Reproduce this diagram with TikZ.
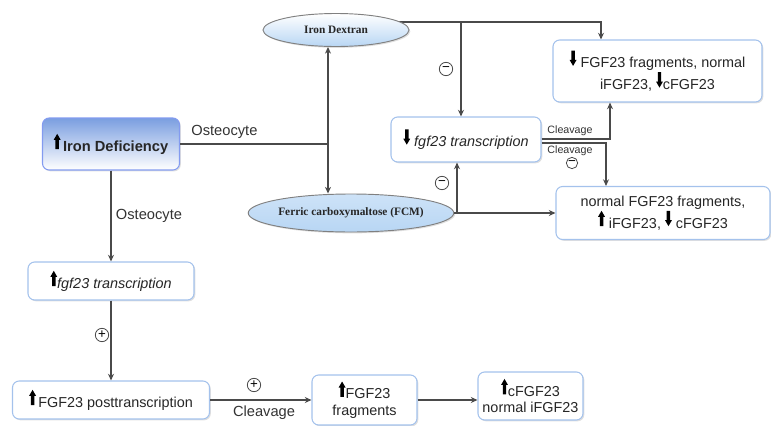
\documentclass[tikz,border=0pt]{standalone}
\usepackage{fontspec}
\setmainfont{Liberation Sans}
\newfontfamily\ellfont{Liberation Serif}
\usetikzlibrary{shapes.geometric,arrows.meta,shadows,backgrounds}

\definecolor{boxline}{HTML}{A4C2EC}
\definecolor{idtop}{HTML}{7A9EE0}
\definecolor{ellblue}{HTML}{B8D6F4}
\definecolor{linegray}{HTML}{4A4A4A}

\newcommand{\uparr}{\tikz[baseline=-1.5pt,x=1pt,y=1pt,sharp corners]\fill[black] (0.7,0)--(0.7,7)--(-0.6,7)--(2,11.5)--(4.6,7)--(3.3,7)--(3.3,0)--cycle;}
\newcommand{\dnarr}{\tikz[baseline=-1.5pt,x=1pt,y=1pt,sharp corners]\fill[black] (0.7,11.5)--(0.7,4.5)--(-0.6,4.5)--(2,0)--(4.6,4.5)--(3.3,4.5)--(3.3,11.5)--cycle;}

\begin{document}
\begin{tikzpicture}[x=0.75pt,y=-0.75pt]
\tikzstyle{fbox} = [
  draw=boxline, rounded corners=5pt, fill=white, line width=0.8pt,
  align=center, inner sep=0pt, text=black!85,
  font=\fontsize{10.8}{12.5}\selectfont,
  drop shadow={opacity=0.25, shadow xshift=1pt, shadow yshift=-1pt}
]
\tikzstyle{idbox} = [
  fbox, draw=boxline!80!blue, top color=idtop, bottom color=white,
  font=\fontsize{11}{13}\selectfont\bfseries
]
\tikzstyle{ell} = [
  ellipse, draw=gray, line width=0.7pt, inner sep=0pt,
  font=\ellfont\fontsize{8.5}{10}\selectfont\bfseries, text=black!85,
  drop shadow={opacity=0.25, shadow xshift=1pt, shadow yshift=-1pt}
]
\tikzstyle{conn} = [draw=linegray, line width=0.8pt]
\tikzstyle{arr} = [conn, -{Stealth[length=5pt,width=4.5pt]}]
\tikzstyle{lbl} = [font=\fontsize{11}{12}\selectfont, text=black!80]
\tikzstyle{small} = [font=\fontsize{8}{9}\selectfont, text=black!80, inner sep=0pt]
\tikzstyle{sign} = [circle, draw=linegray, line width=0.6pt, inner sep=0pt,
  minimum size=10pt, font=\fontsize{10}{10}\selectfont]

\useasboundingbox (0,0) rectangle (771,425);

\node [idbox, minimum width=102.75pt, minimum height=39pt] (idd) at (111,144) {\uparr\,Iron Deficiency};
\node [ell, top color=white, bottom color=ellblue, minimum width=109.5pt, minimum height=24.75pt] (dex) at (336,30) {Iron Dextran};
\node [ell, top color=ellblue!70, bottom color=ellblue, minimum width=137.25pt, minimum height=28.5pt] (fcm) at (351,213) {Ferric carboxymaltose (FCM)};
\node [fbox, minimum width=112.5pt, minimum height=33.75pt] (dn) at (466,139.5) {\dnarr\ \textit{fgf23 transcription}};
\node [fbox, minimum width=156.75pt, minimum height=46.5pt] (tr) at (657.5,71) {\dnarr\ FGF23 fragments, normal\\iFGF23, \dnarr cFGF23};
\node [fbox, minimum width=160.5pt, minimum height=39.75pt] (br) at (663,213) {normal FGF23 fragments,\\\uparr\ iFGF23, \dnarr\ cFGF23};
\node [fbox, minimum width=124.5pt, minimum height=28.5pt] (lf) at (111,281) {\uparr\textit{fgf23 transcription}};
\node [fbox, minimum width=147.75pt, minimum height=28.5pt] (post) at (111,400) {\uparr\,FGF23 posttranscription};
\node [fbox, minimum width=78.75pt, minimum height=37.5pt] (frag) at (364.5,400) {\uparr FGF23\\fragments};
\node [fbox, minimum width=78.75pt, minimum height=36pt] (cf) at (530.5,396) {\uparr cFGF23\\normal iFGF23};

\coordinate (j1) at (328,144);
\coordinate (d1) at (461,22);
\coordinate (d2) at (601,22);
\coordinate (f1) at (457,213);
\coordinate (c1) at (610,139);
\coordinate (c2) at (606,143);

\draw[conn] (idd.east) -- node[above, pos=0.3, lbl] {Osteocyte} (j1);
\draw[arr] (j1) -- (j1 |- dex.south);
\draw[arr] (j1) -- (j1 |- fcm.north);
\begin{scope}[on background layer]
\draw[arr] (dex.center |- d1) -- (d2) -- (tr.north -| d2);
\end{scope}
\draw[arr] (d1) -- (d1 |- dn.north);
\node[sign] (m1) at (446,69) {−};
\draw[arr] (fcm.east) -- (br.west);
\draw[arr] (f1) -- (f1 |- dn.south);
\node[sign] (m2) at (442,183) {−};
\draw[arr] (dn.east |- c1) -- (c1) -- (c1 |- tr.south);
\draw[arr] (dn.east |- c2) -- (c2) -- (c2 |- br.north);
\node[small] (cl1) at (570,131) {Cleavage};
\node[small] (cl2) at (570,151) {Cleavage};
\node[sign, minimum size=8.5pt] (m3) at (572,163) {−};

\draw[arr] (idd.south) -- node[right, lbl] {Osteocyte} (lf.north);
\draw[arr] (lf.south) -- (post.north);
\node[sign] (p1) at (102,335) {+};
\draw[arr] (post.east) -- (frag.west);
\node[sign] (p2) at (254,385) {+};
\node[lbl] (cl3) at (264,413) {Cleavage};
\draw[arr] (frag.east) -- (frag.east -| cf.west);

\end{tikzpicture}
\end{document}
